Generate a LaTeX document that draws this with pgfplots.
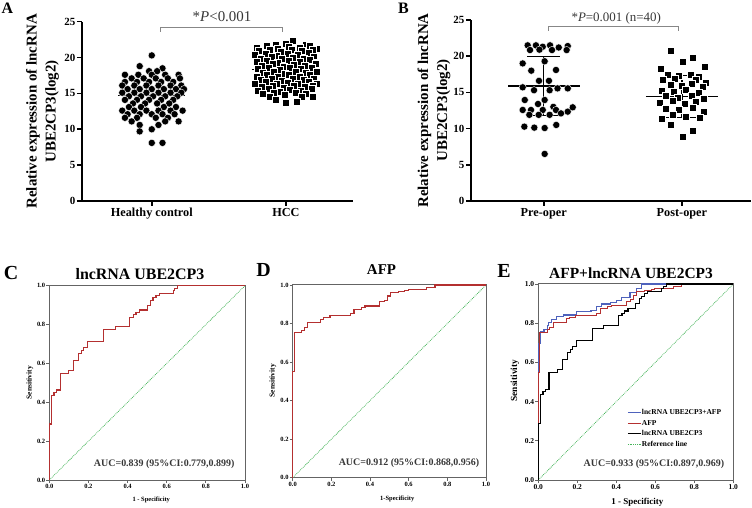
\documentclass[border=0pt]{standalone}
\usepackage{pgfplots}
\pgfplotsset{compat=1.18}
\usepackage{fontspec}
\setmainfont{Liberation Serif}
\definecolor{rocred}{RGB}{180,48,48}
\definecolor{rocblue}{RGB}{78,98,188}
\definecolor{refgreen}{RGB}{70,180,90}
\definecolor{framegray}{RGB}{100,100,100}
\definecolor{bracketgray}{RGB}{135,135,135}
\definecolor{anntext}{RGB}{55,55,55}
\newcommand{\fs}[1]{\fontsize{#1}{#1}\selectfont}

\pgfplotsset{
  scatterax/.style={
    scale only axis, clip=false,
    ymin=0, ymax=25,
    axis x line*=bottom, axis y line*=left,
    axis line style={line width=1.6bp,-},
    xtick={1,2}, ytick={0,5,10,15,20,25},
    tick align=outside, major tick length=5bp,
    major tick style={line width=1.6bp, black},
    xticklabel style={font=\bfseries\fs{12.3}, inner sep=1bp, yshift=-1bp},
    yticklabel style={font=\bfseries\fs{11}, inner sep=1.5bp},
    /pgf/number format/assume math mode=true,
    ylabel={Relative expression of lncRNA\\UBE2CP3(log2)},
    ylabel style={font=\bfseries\fontsize{15}{19}\selectfont, align=center, anchor=center},
  },
  dots/.style={only marks, mark=*, mark size=3.6bp, mark options={fill=black, draw=white, line width=0.4bp}},
  sqs/.style={only marks, mark=square*, mark size=3.5bp, mark options={fill=black, draw=white, line width=0.3bp}},
  rocax/.style={
    scale only axis, clip=false,
    xmin=0, xmax=1, ymin=0, ymax=1,
    axis line style={framegray, line width=1bp},
    xtick={0,0.2,0.4,0.6,0.8,1}, ytick={0,0.2,0.4,0.6,0.8,1},
    xticklabels={0.0,0.2,0.4,0.6,0.8,1.0}, yticklabels={0.0,0.2,0.4,0.6,0.8,1.0},
    xtick pos=bottom, ytick pos=left, tick align=outside,
    major tick length=3bp, major tick style={framegray, line width=0.8bp},
    xticklabel style={inner sep=1bp},
    yticklabel style={inner sep=1bp},
    xlabel={1 - Specificity}, ylabel={Sensitivity},
    xlabel style={anchor=center, font=\bfseries\fs{6.5}},
    ylabel style={anchor=center, font=\bfseries\fs{7.5}},
    ticklabel style={font=\bfseries\fs{6.5}},
  },
  roc/.style={const plot, line width=1.1bp, no marks},
}

\begin{document}
\begin{tikzpicture}
\path[use as bounding box] (0,0) rectangle (752bp,508bp);

% ---------------- Panel A ----------------
\begin{axis}[scatterax, at={(82bp,307bp)}, anchor=south west,
  width=271bp, height=179.3bp, xmin=0.48, xmax=2.5,
  xticklabels={Healthy control, HCC},
  ylabel style={at={(axis description cs:-0.146,0.5)}}]
\addplot[dots] coordinates {
(1.00,20.3) (0.91,18.8) (1.08,18.5) (0.98,18.1) (1.04,18.1)
(0.80,17.6) (0.90,17.6) (1.00,17.6) (1.10,17.6) (1.20,17.6)
(0.85,17.1) (0.94,17.1) (1.03,17.1) (1.12,17.1) (1.21,17.1)
(0.80,16.6) (0.89,16.6) (0.98,16.6) (1.07,16.6) (1.16,16.6)
(0.78,16.1) (0.87,16.1) (0.96,16.1) (1.05,16.1) (1.14,16.1) (1.22,16.1)
(0.82,15.6) (0.91,15.6) (1.00,15.6) (1.09,15.6) (1.18,15.6) (1.24,15.6)
(0.78,15.1) (0.87,15.1) (0.96,15.1) (1.05,15.1) (1.14,15.1) (1.22,15.1)
(0.83,14.6) (0.92,14.6) (1.01,14.6) (1.10,14.6) (1.19,14.6)
(0.80,14.1) (0.89,14.1) (0.98,14.1) (1.07,14.1) (1.16,14.1)
(0.86,13.6) (0.95,13.6) (1.04,13.6) (1.13,13.6)
(0.83,13.1) (0.92,13.1) (1.09,13.1) (1.18,13.1)
(0.78,12.6) (0.87,12.6) (0.96,12.6) (1.05,12.6) (1.14,12.6) (1.23,12.6)
(0.82,12.1) (0.91,12.1) (1.00,12.1) (1.08,12.1) (1.17,12.1)
(0.80,11.6) (0.89,11.6) (1.03,11.6) (1.12,11.6)
(0.85,11.1) (1.10,11.1) (1.20,11.1)
(0.91,10.6) (1.05,10.6) (1.00,10.0) (0.91,9.7) (1.00,8.1) (1.08,8.1)
};
\addplot[sqs] coordinates {
(2.05,22.3) (1.92,21.8) (2.00,22.0) (2.15,21.8)
(1.78,21.4) (1.86,21.6) (1.94,21.3) (2.02,21.55) (2.10,21.4) (2.18,21.65) (2.23,21.3)
(1.80,20.9) (1.88,21.1) (1.96,20.8) (2.04,21.05) (2.12,20.9) (2.20,21.1)
(1.77,20.4) (1.85,20.6) (1.93,20.3) (2.01,20.55) (2.09,20.4) (2.17,20.65)
(1.81,19.9) (1.89,20.1) (1.97,19.8) (2.05,20.05) (2.13,19.9) (2.21,20.1)
(1.78,19.4) (1.86,19.6) (1.94,19.3) (2.02,19.55) (2.10,19.4) (2.18,19.65) (2.23,19.3)
(1.82,18.9) (1.90,19.1) (1.98,18.8) (2.06,19.05) (2.14,18.9) (2.22,19.1)
(1.79,18.4) (1.87,18.6) (1.95,18.3) (2.03,18.55) (2.11,18.4) (2.19,18.65)
(1.83,17.9) (1.91,18.1) (1.99,17.8) (2.07,18.05) (2.15,17.9) (2.23,18.1)
(1.78,17.4) (1.86,17.6) (1.94,17.3) (2.02,17.55) (2.10,17.4) (2.18,17.65)
(1.81,16.9) (1.89,17.1) (1.97,16.8) (2.05,17.05) (2.13,16.9) (2.21,17.1)
(1.77,16.4) (1.85,16.6) (1.93,16.3) (2.01,16.55) (2.09,16.4) (2.17,16.65) (2.23,16.3)
(1.82,15.9) (1.90,16.1) (1.98,15.8) (2.06,16.05) (2.14,15.9) (2.20,16.1)
(1.79,15.4) (1.87,15.6) (1.95,15.3) (2.03,15.55) (2.11,15.4) (2.19,15.65)
(1.83,14.9) (1.91,15.1) (1.99,14.8) (2.07,15.05) (2.15,14.9)
(1.88,14.5) (2.12,14.5) (2.20,14.6) (1.92,14.1) (2.08,13.8) (2.00,13.7)
};
\addplot[black, line width=1.3bp] coordinates {(0.75,14.7) (1.25,14.7)};
\addplot[black, line width=1.3bp] coordinates {(1.745,18.3) (2.255,18.3)};
\draw[bracketgray, line width=1bp] (axis cs:1.067,23.6) -- (axis cs:1.067,24.16) -- (axis cs:1.978,24.16) -- (axis cs:1.978,23.6);
\node[anchor=base, anntext, font=\fs{15}] at (axis cs:1.524,25.0) {*\textit{P}<0.001};
\end{axis}

% ---------------- Panel B ----------------
\begin{axis}[scatterax, at={(471bp,307bp)}, anchor=south west,
  width=280bp, height=181bp, xmin=0.474, xmax=2.5,
  xticklabels={Pre-oper, Post-oper},
  ylabel style={at={(axis description cs:-0.132,0.5)}}]
\addplot[dots] coordinates {
(0.884,21.5) (0.944,21.5) (0.993,21.3) (1.046,21.5) (1.109,21.2) (1.174,21.4)
(0.901,20.85) (0.969,20.9) (1.060,20.85) (1.166,20.85)
(0.848,19.0) (1.007,19.3) (1.089,18.1) (0.910,18.0)
(0.966,16.6) (1.038,16.6) (0.848,15.7) (1.100,15.55) (1.174,15.55) (0.930,15.3) (1.043,15.3)
(0.863,13.95) (1.007,13.95) (0.959,13.4) (1.070,13.0)
(0.848,12.57) (0.908,12.57) (0.993,12.57) (1.089,12.57) (1.174,12.34) (1.210,12.94)
(0.896,11.9) (0.964,11.9) (1.043,11.9) (1.125,12.1)
(0.860,10.27) (0.932,10.13) (1.007,10.08) (1.091,10.5)
(1.007,6.5)
};
\addplot[sqs] coordinates {
(1.916,20.7) (2.077,19.85) (2.005,19.25) (2.161,18.55) (1.843,18.25)
(1.90,17.5) (1.98,17.3) (2.06,17.5) (2.12,17.2)
(1.86,16.8) (1.95,16.9) (2.10,16.7) (2.17,16.4)
(1.92,16.1) (2.00,15.9) (2.07,16.2) (2.15,15.8)
(1.85,15.3) (1.94,15.1) (2.03,15.4) (2.12,15.0)
(1.88,14.5) (1.97,14.3) (2.07,14.6) (2.16,14.2)
(1.84,13.6) (1.93,13.8) (2.02,13.5) (2.10,13.7)
(1.88,12.8) (1.98,12.6) (2.08,12.9) (2.16,12.4)
(1.85,11.4) (1.93,11.9) (2.03,11.7) (2.13,11.5)
(1.92,10.5) (2.08,9.7) (2.005,8.9)
};
% mean and SD, pre-oper
\addplot[black, line width=1.3bp] coordinates {(0.745,15.9) (1.26,15.9)};
\addplot[black, line width=1.3bp] coordinates {(1,11.85) (1,20.0)};
\addplot[black, line width=1.3bp] coordinates {(0.88,20.0) (1.12,20.0)};
\addplot[black, line width=1.3bp] coordinates {(0.88,11.85) (1.12,11.85)};
% mean and SD, post-oper
\addplot[black, line width=1.3bp] coordinates {(1.74,14.4) (2.258,14.4)};
\addplot[black, line width=1.3bp] coordinates {(2,11.55) (2,17.3)};
\addplot[black, line width=1.3bp] coordinates {(1.88,17.3) (2.12,17.3)};
\addplot[black, line width=1.3bp] coordinates {(1.88,11.55) (2.12,11.55)};
\draw[bracketgray, line width=1bp] (axis cs:1.038,23.5) -- (axis cs:1.038,24.07) -- (axis cs:1.972,24.07) -- (axis cs:1.972,23.5);
\node[anchor=base, anntext, font=\fs{13}] at (axis cs:1.525,24.77) {*\textit{P}=0.001 (n=40)};
\end{axis}

% ---------------- Panel C ----------------
\begin{axis}[rocax, at={(49.3bp,28bp)}, anchor=south west,
  width=195.7bp, height=194.3bp,
  xlabel style={at={(axis description cs:0.521,-0.103)}},
  ylabel style={at={(axis description cs:-0.099,0.5)}}]
\addplot[refgreen, densely dotted, line width=0.8bp] coordinates {(0,0) (1,1)};
\addplot[roc, rocred] coordinates {
(0,0) (0,0.288) (0.012,0.437) (0.024,0.45) (0.037,0.463) (0.055,0.55) (0.097,0.565)
(0.123,0.614) (0.148,0.652) (0.165,0.668) (0.177,0.683) (0.197,0.712) (0.279,0.775)
(0.336,0.79) (0.412,0.838) (0.429,0.85) (0.443,0.862) (0.46,0.875) (0.5,0.9)
(0.518,0.925) (0.53,0.937) (0.545,0.95) (0.562,0.962) (0.634,0.975) (0.642,0.987)
(0.656,1.0) (1,1)};
\node[anchor=east, font=\bfseries\fs{10}, anntext] at (axis description cs:0.964,0.082) {AUC=0.839 (95\%CI:0.779,0.899)};
\end{axis}

% ---------------- Panel D ----------------
\begin{axis}[rocax, at={(292.7bp,30.3bp)}, anchor=south west,
  width=193.3bp, height=192.7bp, xlabel={1-Specificity},
  xlabel style={at={(axis description cs:0.541,-0.11)}},
  ylabel style={at={(axis description cs:-0.103,0.503)}}]
\addplot[refgreen, densely dotted, line width=0.8bp] coordinates {(0,0) (1,1)};
\addplot[roc, rocred] coordinates {
(0,0) (0,0.55) (0.007,0.753) (0.047,0.766) (0.059,0.778) (0.078,0.804) (0.145,0.822)
(0.159,0.83) (0.193,0.841) (0.3,0.85) (0.317,0.874) (0.357,0.884) (0.374,0.891)
(0.45,0.913) (0.475,0.92) (0.49,0.943) (0.505,0.96) (0.546,0.965) (0.58,0.972)
(0.598,0.977) (0.693,0.988) (0.736,1.0) (1,1)};
\node[anchor=east, font=\bfseries\fs{10}, anntext] at (axis description cs:0.983,0.076) {AUC=0.912 (95\%CI:0.868,0.956)};
\end{axis}

% ---------------- Panel E ----------------
\begin{axis}[rocax, at={(538.3bp,28bp)}, anchor=south west,
  width=195bp, height=196bp,
  ticklabel style={font=\bfseries\fs{7.5}},
  xlabel style={at={(axis description cs:0.508,-0.116)}, font=\bfseries\fs{9}},
  ylabel style={at={(axis description cs:-0.12,0.507)}, font=\bfseries\fs{9.4}},
  legend style={at={(axis description cs:0.455,0.364)}, anchor=north west,
    draw=none, fill=none, inner sep=0pt, font=\bfseries\fs{7.5},
    row sep=2.8bp, nodes={inner sep=0.6bp}},
  legend cell align=left,
  legend image code/.code={\draw[#1] (0bp,0bp) -- (13bp,0bp);}]
\addlegendimage{rocblue, line width=1.1bp}
\addlegendentry{lncRNA UBE2CP3+AFP}
\addlegendimage{rocred, line width=1.1bp}
\addlegendentry{AFP}
\addlegendimage{black, line width=1.1bp}
\addlegendentry{lncRNA UBE2CP3}
\addlegendimage{refgreen, densely dotted, line width=0.8bp}
\addlegendentry{Reference line}
\addplot[refgreen, densely dotted, line width=0.8bp, forget plot] coordinates {(0,0) (1,1)};
\addplot[roc, rocblue, forget plot] coordinates {
(0,0) (0,0.697) (0.012,0.757) (0.029,0.769) (0.045,0.79) (0.051,0.803) (0.068,0.82)
(0.094,0.833) (0.128,0.842) (0.197,0.859) (0.27,0.867) (0.3,0.884) (0.325,0.898)
(0.37,0.905) (0.4,0.918) (0.426,0.932) (0.47,0.956) (0.504,0.978) (0.53,1.0) (1,1)};
\addplot[roc, rocred, forget plot] coordinates {
(0,0) (0,0.55) (0.007,0.753) (0.047,0.766) (0.059,0.778) (0.078,0.804) (0.145,0.822)
(0.159,0.83) (0.193,0.841) (0.3,0.85) (0.317,0.874) (0.357,0.884) (0.374,0.891)
(0.45,0.913) (0.475,0.92) (0.49,0.943) (0.505,0.96) (0.546,0.965) (0.58,0.972)
(0.598,0.977) (0.693,0.988) (0.736,1.0) (1,1)};
\addplot[roc, black, forget plot] coordinates {
(0,0) (0,0.288) (0.012,0.437) (0.024,0.45) (0.037,0.463) (0.055,0.55) (0.097,0.565)
(0.123,0.614) (0.148,0.652) (0.165,0.668) (0.177,0.683) (0.197,0.712) (0.279,0.775)
(0.336,0.79) (0.412,0.838) (0.429,0.85) (0.443,0.862) (0.46,0.875) (0.5,0.9)
(0.518,0.925) (0.53,0.937) (0.545,0.95) (0.562,0.962) (0.634,0.975) (0.642,0.987)
(0.656,1.0) (1,1)};
\node[anchor=east, font=\bfseries\fs{10}, anntext] at (axis description cs:0.971,0.082) {AUC=0.933 (95\%CI:0.897,0.969)};
\end{axis}

% ---------------- Titles and panel letters ----------------
\node[anchor=base, font=\bfseries\fs{16}] at (7.5bp,494.7bp) {A};
\node[anchor=base, font=\bfseries\fs{16}] at (403.5bp,494bp) {B};
\node[anchor=base, font=\bfseries\fs{20}] at (11bp,228.7bp) {C};
\node[anchor=base, font=\bfseries\fs{20}] at (263.5bp,231.3bp) {D};
\node[anchor=base, font=\bfseries\fs{20}] at (504bp,230.7bp) {E};
\node[anchor=base, font=\bfseries\fs{16}] at (140bp,228.7bp) {lncRNA UBE2CP3};
\node[anchor=base, font=\bfseries\fs{15}] at (381.5bp,233bp) {AFP};
\node[anchor=base, font=\bfseries\fs{15.5}] at (631bp,229.7bp) {AFP+lncRNA UBE2CP3};
\end{tikzpicture}
\end{document}
